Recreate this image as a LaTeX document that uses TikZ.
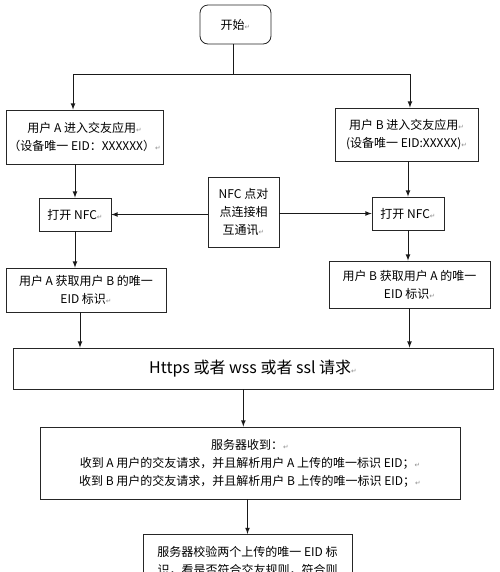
\documentclass[tikz,border=0pt]{standalone}
\usepackage{fontspec}
\setmainfont{Noto Sans CJK SC}
\newfontfamily\dejavu{DejaVu Sans}
\newcommand{\retmark}{{\dejavu\fontsize{5}{5}\selectfont\textcolor{black!45}{↵}}}

\begin{document}
\begin{tikzpicture}[x=0.75pt,y=-0.75pt]
  \tikzset{box/.style={draw=black!85,line width=0.6pt,align=center,inner sep=0pt,
                       font=\fontsize{9}{13.5}\selectfont},
           arr/.style={->,>=latex,draw=black!90,line width=0.6pt}}
  \useasboundingbox (0,0) rectangle (500,572);
  \clip (0,0) rectangle (500,572);
  \node[box,rounded corners=6pt,minimum width=53.25pt,minimum height=29.25pt] (start) at (235.5,24.5) {开始\retmark};
  \node[box,minimum width=117.75pt,minimum height=40.5pt] (userA) at (84.5,137) {用户 A 进入交友应用\retmark\\（设备唯一 EID：XXXXXX）\retmark};
  \node[box,minimum width=107.25pt,minimum height=39.75pt] (userB) at (406.5,134.5) {用户 B 进入交友应用\retmark\\(设备唯一 EID:XXXXX)\retmark};
  \node[box,minimum width=54pt,minimum height=24.75pt] (nfcA) at (75,214.5) {打开 NFC\retmark};
  \node[box,minimum width=53.25pt,minimum height=52.5pt] (nfcmid) at (243.5,212) {NFC 点对\\点连接相\\互通讯\retmark};
  \node[box,minimum width=54pt,minimum height=24.75pt] (nfcB) at (408,213.5) {打开 NFC\retmark};
  \node[box,minimum width=120pt,minimum height=33pt] (getA) at (86,290) {用户 A 获取用户 B 的唯一\\EID 标识\retmark};
  \node[box,minimum width=120.75pt,minimum height=35.25pt] (getB) at (409.5,284.5) {用户 B 获取用户 A 的唯一\\EID 标识\retmark};
  \node[box,font=\fontsize{12}{14}\selectfont,minimum width=360pt,minimum height=30.75pt] (https) at (253,368.5) {Https 或者 wss 或者 ssl 请求\retmark};
  \node[box,minimum width=315pt,minimum height=54pt] (server) at (250,463) {服务器收到：\retmark\\收到 A 用户的交友请求，并且解析用户 A 上传的唯一标识 EID；\retmark\\收到 B 用户的交友请求，并且解析用户 B 上传的唯一标识 EID；\retmark};
  \node[box,anchor=north,minimum width=156.75pt,inner ysep=9pt] (check) at (247.5,534) {服务器校验两个上传的唯一 EID 标\\识，看是否符合交友规则，符合则};
  \coordinate (split) at (233,74);
  \draw[line width=0.6pt,draw=black!90] (start.south -| split) -- (split);
  \draw[arr] (split) -| ([xshift=-8.6pt]userA.north);
  \draw[arr] (split) -| ([xshift=2.6pt]userB.north);
  \draw[arr] (userA.south -| nfcA.north) -- (nfcA.north);
  \draw[arr] (userB.south -| nfcB.north) -- (nfcB.north);
  \draw[arr] (nfcmid.west |- nfcA) -- (nfcA.east);
  \draw[arr] (nfcmid.east |- nfcB) -- (nfcB.west);
  \draw[arr] (nfcA.south) -- (nfcA.south |- getA.north);
  \draw[arr] (nfcB.south) -- (nfcB.south |- getB.north);
  \draw[arr] ([xshift=-4.5pt]getA.south) -- ([xshift=-4.5pt]getA.south |- https.north);
  \draw[arr] (getB.south) -- (getB.south |- https.north);
  \draw[arr] ([xshift=-5pt]server.north |- https.south) -- ([xshift=-5pt]server.north);
  \draw[arr] (check.north |- server.south) -- (check.north);
\end{tikzpicture}
\end{document}
